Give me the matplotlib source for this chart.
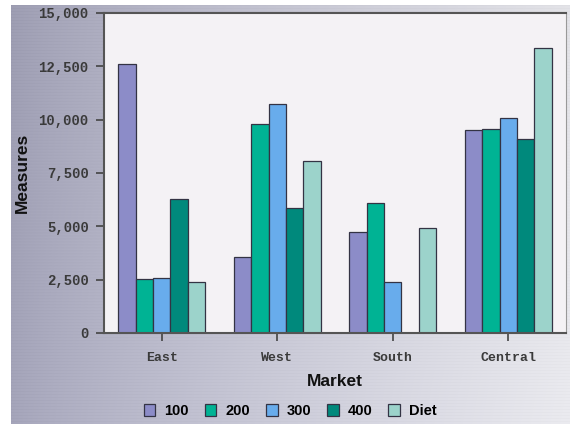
import matplotlib.pyplot as plt
import numpy as np

markets = ["East", "West", "South", "Central"]
series = ["100", "200", "300", "400", "Diet"]
v100 = [12600, 3560, 4740, 9500]
v200 = [2550, 9780, 6080, 9560]
v300 = [2600, 10740, 2370, 10080]
v400 = [6300, 5860, 0, 9090]
vdiet = [2400, 8060, 4900, 13360]
yticks = [0, 2500, 5000, 7500, 10000, 12500, 15000]

colors = ["#8c8cc8", "#00b394", "#68acec", "#00897c", "#9cd3cb"]

fig = plt.figure(figsize=(5.7, 4.24), dpi=100)

# background: gradient with faint scanlines
bg = fig.add_axes([11 / 570, 0, 1 - 11 / 570, 1 - 5 / 424], zorder=0)
w, h = 560, 420
xx = np.linspace(0, 1, w)[None, :]
yy = np.linspace(0, 1, h)[:, None]
base = 0.63 + 0.28 * xx ** 0.8 + 0.03 * yy
lines = (np.arange(h)[:, None] % 3 == 0) * 0.015
gray = np.clip(base - lines, 0, 1)
img = np.dstack([gray * 0.98, gray * 0.98, gray * 1.0 + 0.07 * (1 - xx)])
bg.imshow(np.clip(img, 0, 1), aspect="auto", extent=[0, 1, 0, 1])
bg.axis("off")

ax = fig.add_axes([104 / 570, 1 - 333 / 424, 462 / 570, 320 / 424], zorder=1)
ax.set_facecolor("#f4f2f5")

x = np.arange(len(markets))
bw = 0.15
for i, (vals, c, lab) in enumerate(zip([v100, v200, v300, v400, vdiet], colors, series)):
    ax.bar(x + (i - 2) * bw, vals, width=bw, color=c, edgecolor="#333344",
           linewidth=0.9, label=lab)

ax.set_xlim(-0.5, 3.5)
ax.set_ylim(0, 15000)
ax.set_yticks(yticks)
ax.set_yticklabels([f"{t:,}" for t in yticks], family="Liberation Mono",
                   fontweight="bold", fontsize=10, color="#3a3a3a")
ax.set_xticks(x)
ax.set_xticklabels(markets, family="Liberation Mono", fontweight="bold",
                   fontsize=9.5, color="#3a3a3a")
ax.tick_params(axis="both", direction="out", length=6, width=1.2, color="#444444")
ax.tick_params(axis="y", pad=5)
ax.tick_params(axis="x", pad=8)
for s in ["left", "bottom", "top"]:
    ax.spines[s].set_color("#555555")
    ax.spines[s].set_linewidth(1.5)
ax.spines["right"].set_color("#999999")

fig.text(22 / 570, 1 - 173 / 424, "Measures", rotation=90, ha="center", va="center",
         family="Liberation Sans", fontweight="bold", fontsize=12.5, color="#111111")
fig.text(335 / 570, 1 - 382 / 424, "Market", ha="center", va="center",
         family="Liberation Sans", fontweight="bold", fontsize=12.5, color="#111111")

leg = fig.legend(loc="center", bbox_to_anchor=(290 / 570, 1 - 411 / 424), ncol=5,
                 frameon=False, handlelength=0.8, handleheight=0.8,
                 handletextpad=0.6, columnspacing=1.1,
                 prop={"family": "Liberation Sans", "weight": "bold", "size": 10.5})

fig.savefig("out.png", dpi=100)
